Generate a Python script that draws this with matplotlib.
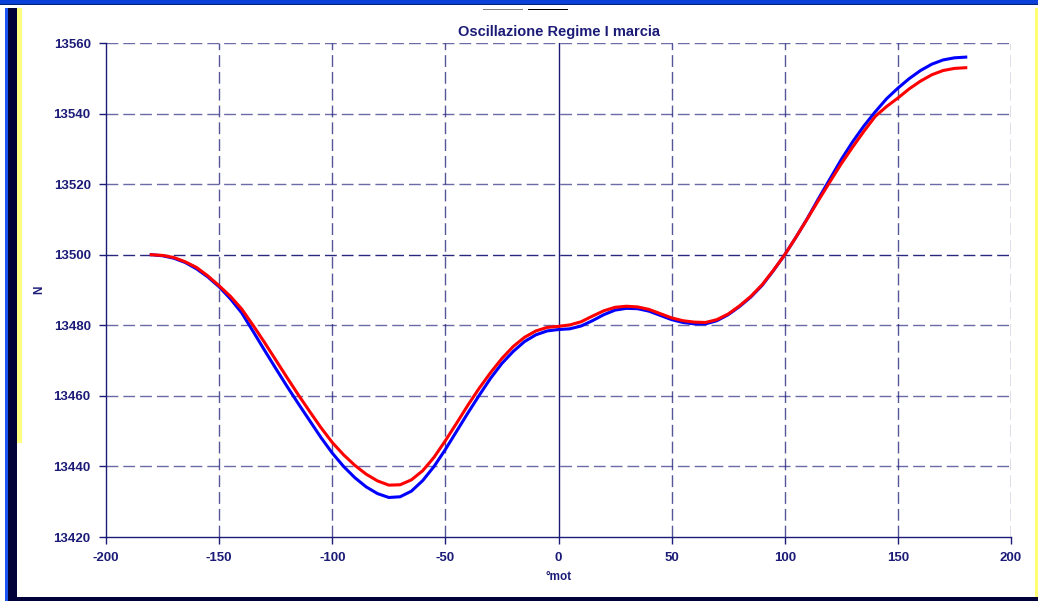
import matplotlib
matplotlib.use("Agg")
import matplotlib.pyplot as plt
from matplotlib.patches import Rectangle

plt.rcParams["axes.unicode_minus"] = False

# valori (ogni 5 gradi)
gradi = list(range(-180, 181, 5))

n_blu = [13500.0, 13499.7, 13499.0, 13497.8, 13496.0, 13493.7, 13490.9, 13487.5, 13483.5,
         13478.3, 13473.0, 13467.8, 13462.7, 13457.8, 13453.0, 13448.2, 13443.8, 13440.0,
         13436.8, 13434.2, 13432.3, 13431.2, 13431.4, 13433.0, 13436.0, 13440.0, 13444.8,
         13450.0, 13455.2, 13460.2, 13465.0, 13469.2, 13472.6, 13475.4, 13477.3, 13478.4,
         13478.8, 13479.0, 13479.8, 13481.3, 13483.0, 13484.3, 13484.8, 13484.7, 13484.0,
         13482.8, 13481.6, 13480.8, 13480.4, 13480.4, 13481.3, 13483.0, 13485.3, 13488.0,
         13491.3, 13495.5, 13500.0, 13505.0, 13510.3, 13516.0, 13521.5, 13527.0, 13532.0,
         13536.5, 13540.5, 13544.2, 13547.2, 13549.9, 13552.2, 13554.0, 13555.2, 13555.8,
         13556.0]

n_rosso = [13500.0, 13499.8, 13499.2, 13498.0, 13496.4, 13494.0, 13491.2, 13488.2, 13484.6,
           13480.0, 13475.2, 13470.2, 13465.2, 13460.3, 13455.6, 13451.0, 13446.8, 13443.3,
           13440.3, 13437.8, 13435.9, 13434.7, 13434.8, 13436.2, 13438.8, 13442.6, 13447.3,
           13452.3, 13457.4, 13462.2, 13466.6, 13470.6, 13474.0, 13476.6, 13478.4, 13479.4,
           13479.7, 13480.1, 13481.0, 13482.6, 13484.1, 13485.1, 13485.4, 13485.2, 13484.5,
           13483.3, 13482.1, 13481.3, 13480.9, 13480.8, 13481.6, 13483.2, 13485.5, 13488.2,
           13491.5, 13495.6, 13500.0, 13505.0, 13510.2, 13515.5, 13520.7, 13525.8, 13530.5,
           13535.0, 13539.2, 13542.0, 13544.4, 13547.0, 13549.2, 13551.0, 13552.2, 13552.8,
           13553.0]

xticks = [-200, -150, -100, -50, 0, 50, 100, 150, 200]
yticks = [13420, 13440, 13460, 13480, 13500, 13520, 13540, 13560]

W, H = 1038, 601
navy = "#1c1c78"
fig = plt.figure(figsize=(W / 100, H / 100), dpi=100)
fig.patch.set_facecolor("white")


def fx(px):
    return px / W


def fy(py):
    return 1 - py / H


def rett(x0, y0, x1, y1, col):
    fig.add_artist(Rectangle((fx(x0), fy(y1)), fx(x1) - fx(x0), fy(y0) - fy(y1),
                             transform=fig.transFigure, color=col, lw=0, zorder=0))


# cornice della finestra
rett(0, 0, W, 4, "#0a3fd8")
rett(0, 4, W, 5, "#00207a")
rett(5, 8, 8, H, "#1a55f0")
rett(8, 8, 17, H, "#000038")
rett(17, 8, 22, 443, "#ffff80")
rett(17, 597, W, H, "#000038")
rett(1035, 8, W, 597, "#ffff70")
rett(483, 9, 523, 10, "#808080")
rett(528, 9, 568, 10, "#000000")

ax = fig.add_axes([fx(106), fy(537), fx(1011) - fx(106), fy(43) - fy(537)])
ax.plot(gradi, n_blu, color="#0000ff", lw=2.2, zorder=3, solid_joinstyle="round")
ax.plot(gradi, n_rosso, color="#ff0000", lw=2.2, zorder=4, solid_joinstyle="round")

ax.set_xlim(-200, 200)
ax.set_ylim(13420, 13560)
ax.set_xticks(xticks)
ax.set_yticks(yticks)
ax.ticklabel_format(useOffset=False, style="plain")

dash = (0, (8.5, 3.6))
for v in yticks[1:]:
    ax.axhline(v, color=navy, lw=1.0, ls=dash, alpha=0.65 if v != 13500 else 0.95, zorder=1)
for v in xticks[1:]:
    if v == 0:
        ax.axvline(v, color=navy, lw=1.0, zorder=1)
    else:
        ax.axvline(v, color=navy, lw=1.0, ls=dash, alpha=0.75, zorder=1)

for s in ["top", "right"]:
    ax.spines[s].set_visible(False)
for s in ["left", "bottom"]:
    ax.spines[s].set_color(navy)
    ax.spines[s].set_linewidth(1.0)

ax.tick_params(colors=navy, length=5, width=1.0, direction="out", pad=6)
for lab in ax.get_xticklabels() + ax.get_yticklabels():
    lab.set_fontfamily("Liberation Sans")
    lab.set_fontweight("bold")
    lab.set_fontsize(9.5)
    lab.set_color(navy)

ax.set_title("Oscillazione Regime I marcia", color=navy, fontsize=10.5,
             fontweight="bold", family="Liberation Sans", pad=5)
ax.set_xlabel("°mot", color=navy, fontsize=8.5, fontweight="bold",
              family="Liberation Sans", labelpad=5)
fig.text(fx(39), fy(290), "N", rotation=90, color=navy, fontsize=8.5, fontweight="bold",
         family="Liberation Sans", ha="center", va="center")

fig.savefig("out.png", dpi=100)
